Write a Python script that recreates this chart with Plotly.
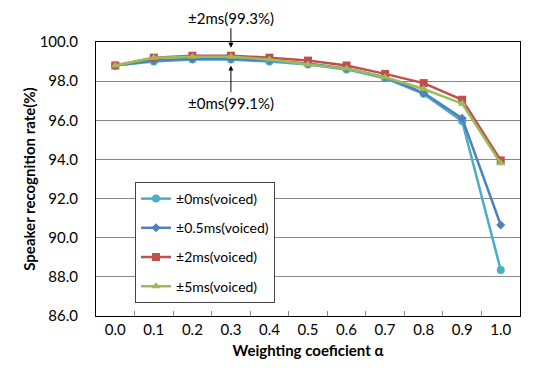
import plotly.graph_objects as go

alpha = ["0.0", "0.1", "0.2", "0.3", "0.4", "0.5", "0.6", "0.7", "0.8", "0.9", "1.0"]
s_0ms = [98.8, 99.0, 99.1, 99.1, 99.0, 98.85, 98.6, 98.15, 97.35, 95.95, 88.35]
s_05ms = [98.8, 99.05, 99.15, 99.15, 99.05, 98.9, 98.65, 98.2, 97.4, 96.1, 90.65]
s_2ms = [98.8, 99.2, 99.3, 99.3, 99.2, 99.05, 98.8, 98.37, 97.9, 97.05, 93.95]
s_5ms = [98.8, 99.2, 99.25, 99.25, 99.1, 98.85, 98.65, 98.2, 97.6, 96.85, 93.8]

names = ["±0ms(voiced)", "±0.5ms(voiced)", "±2ms(voiced)", "±5ms(voiced)"]
colors = ["#4BACC6", "#4F81BD", "#C0504D", "#9BBB59"]
symbols = ["circle", "diamond", "square", "triangle-up"]
sizes = [8, 7, 8, 8]
series = [s_0ms, s_05ms, s_2ms, s_5ms]

fig = go.Figure()
for i, (n, c, s, sz, ys) in enumerate(zip(names, colors, symbols, sizes, series)):
    fig.add_trace(go.Scatter(
        x=alpha, y=ys, name=n, mode="lines+markers",
        line=dict(color=c, width=2.5),
        marker=dict(symbol=s, size=sz, color=c),
        legendgroup=f"g{i}",
    ))

font = "Lato, Liberation Sans, sans-serif"
fig.update_layout(
    width=526, height=368,
    margin=dict(l=88, r=14, t=34, b=60),
    paper_bgcolor="white", plot_bgcolor="white",
    font=dict(family=font, size=13, color="#000"),
    showlegend=True,
    legend=dict(
        x=0.092, y=0.489, xanchor="left", yanchor="top",
        bordercolor="#444", borderwidth=1, bgcolor="white",
        tracegroupgap=8, font=dict(size=14),
    ),
    xaxis=dict(
        type="category", tickson="boundaries", ticks="inside", ticklen=5,
        tickcolor="#888", showgrid=False, showline=True, linecolor="#000",
        linewidth=1, mirror=True, range=[-0.5, 10.5],
        title=dict(text="<b>Weighting coeficient α</b>", font=dict(size=15), standoff=8),
        tickfont=dict(size=15),
    ),
    yaxis=dict(
        range=[86, 100], dtick=2, tickformat=".1f", showgrid=True,
        gridcolor="#888", gridwidth=1, showline=True, linecolor="#000",
        linewidth=1, mirror=True, ticks="", ticklabelstandoff=14,
        title=dict(text="<b>Speaker recognition rate(%)</b>", font=dict(size=15), standoff=0),
        tickfont=dict(size=15), zeroline=False,
    ),
)

fig.add_annotation(x=3, y=99.3, yref="y", text="±2ms(99.3%)", showarrow=True,
                   arrowhead=2, arrowsize=1, arrowwidth=1, arrowcolor="#000",
                   ax=0, ay=-30, yshift=8, font=dict(size=15))
fig.add_annotation(x=3, y=99.1, yref="y", text="±0ms(99.1%)", showarrow=True,
                   arrowhead=2, arrowsize=1, arrowwidth=1, arrowcolor="#000",
                   ax=0, ay=37, yshift=-6, font=dict(size=15))

fig.write_html("out.html")
